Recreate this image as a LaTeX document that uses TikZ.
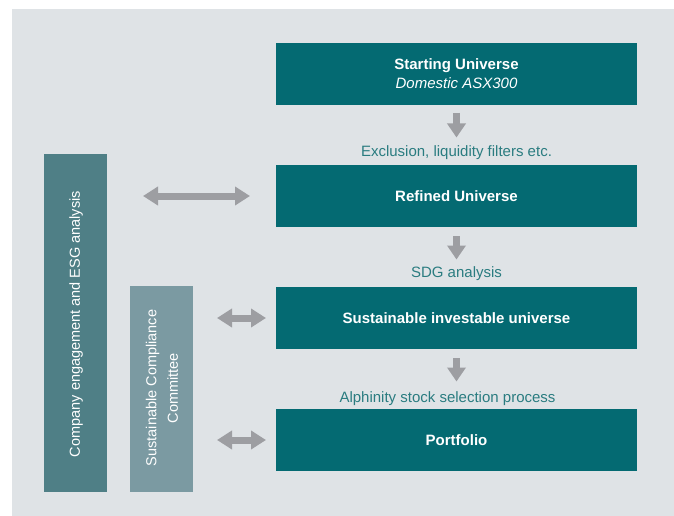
\documentclass[tikz,border=0pt]{standalone}
\usepackage{fontspec}
\setmainfont{Liberation Sans}
\usetikzlibrary{arrows.meta}
\definecolor{panel}{HTML}{DFE3E6}
\definecolor{boxteal}{HTML}{046A72}
\definecolor{bar1}{HTML}{4F7F86}
\definecolor{bar2}{HTML}{7B9AA2}
\definecolor{arrowgray}{HTML}{9D9EA2}
\definecolor{labteal}{HTML}{2A7C80}
\tikzset{
  stagebox/.style={fill=boxteal, text=white, font=\bfseries\fontsize{15}{19}\selectfont, minimum width=361pt, minimum height=62pt, inner sep=0pt, align=center},
  sidebar/.style={inner sep=0pt, text=white, font=\fontsize{14.5}{21.5}\selectfont, align=center},
  steplabel/.style={text=labteal, font=\fontsize{15}{18}\selectfont, inner sep=0pt},
  downarrow/.style={draw=arrowgray, line width=7pt, -{Triangle[width=18pt,length=14pt]}},
  biarrow/.style={draw=arrowgray, line width=7pt, {Triangle[width=18pt,length=15pt]}-{Triangle[width=18pt,length=15pt]}},
}
\begin{document}
\begin{tikzpicture}[x=1pt,y=-1pt]
\useasboundingbox (0,0) rectangle (674,516);
\fill[panel] (12,9) rectangle (675,517);
% main boxes
\node[stagebox] (start) at (456.5,74) {Starting Universe\\{\mdseries\itshape Domestic ASX300}};
\node[stagebox] (refined) at (456.5,196) {Refined Universe};
\node[stagebox] (sustain) at (456.5,318) {Sustainable investable universe};
\node[stagebox] (port) at (456.5,440) {Portfolio};
% labels
\node[steplabel] (l1) at (456.5,153) {Exclusion, liquidity filters etc.};
\node[steplabel] (l2) at (456.5,273.5) {SDG analysis};
\node[steplabel] (l3) at (447.5,398.5) {Alphinity stock selection process};
% down arrows
\coordinate (a1s) at (456.5,113); \coordinate (a1e) at (456.5,137.5);
\coordinate (a2s) at (456.5,236); \coordinate (a2e) at (456.5,259.5);
\coordinate (a3s) at (456.5,358); \coordinate (a3e) at (456.5,381.5);
\draw[downarrow] (a1s) -- (a1e);
\draw[downarrow] (a2s) -- (a2e);
\draw[downarrow] (a3s) -- (a3e);
% side bars
\fill[bar1] (44,154) rectangle (107,492);
\node[sidebar, rotate=90] (company) at (76,324) {Company engagement and ESG analysis};
\fill[bar2] (130,286) rectangle (193,492);
\node[sidebar, rotate=90] (committee) at (162,388) {Sustainable Compliance\\Committee};
% horizontal double arrows
\coordinate (b1s) at (143,196); \coordinate (b1e) at (250,196);
\coordinate (b2s) at (217,318); \coordinate (b2e) at (266,318);
\coordinate (b3s) at (217,440); \coordinate (b3e) at (266,440);
\draw[biarrow] (b1s) -- (b1e);
\draw[biarrow] (b2s) -- (b2e);
\draw[biarrow] (b3s) -- (b3e);
\end{tikzpicture}
\end{document}
